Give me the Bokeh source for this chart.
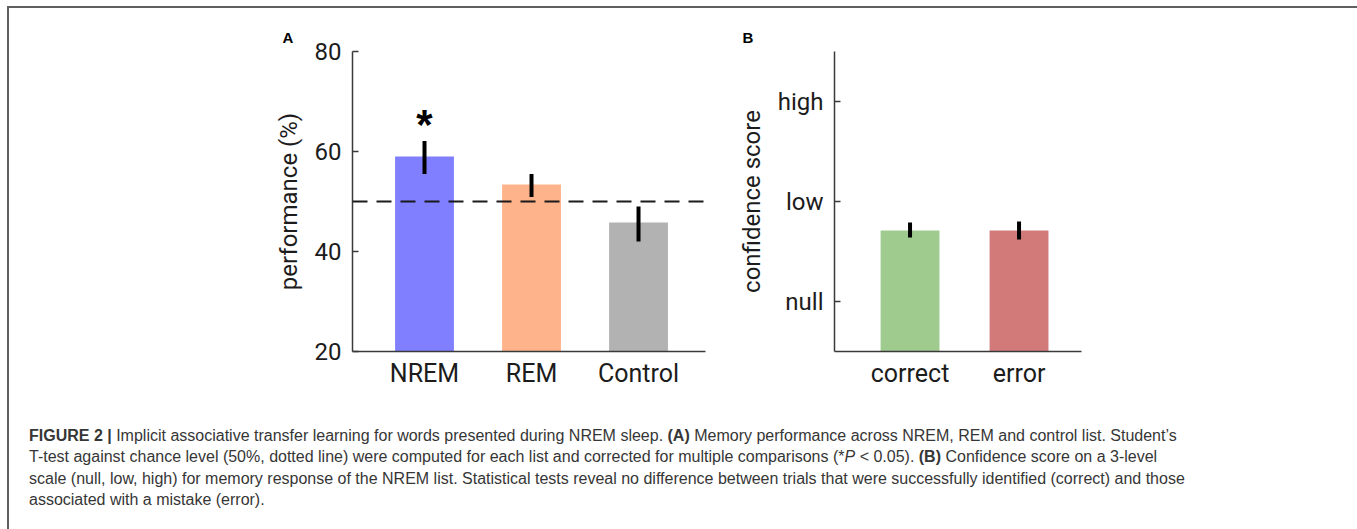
from bokeh.plotting import figure
from bokeh.models import Range1d, FixedTicker, Span, Div
from bokeh.layouts import column, row
from bokeh.embed import file_html
from bokeh.resources import INLINE
from bokeh.core.properties import value

# ---------------- data ----------------
a_categories = ["NREM", "REM", "Control"]
a_values = [59.0, 53.4, 45.8]
a_err_low = [55.5, 50.9, 42.0]
a_err_high = [62.1, 55.5, 49.0]
a_colors = ["#7f7fff", "#ffb38a", "#b2b2b2"]
a_marks = ["*", "", ""]
a_yticks = [20, 40, 60, 80]
chance_level = 50

b_categories = ["correct", "error"]
b_values = [0.71, 0.71]
b_err_low = [0.64, 0.62]
b_err_high = [0.79, 0.80]
b_colors = ["#9fcb8f", "#d27a7a"]
b_tick_values = [0, 1, 2]
b_tick_labels = ["null", "low", "high"]

caption_lines = [
    "<b>FIGURE 2 |</b> Implicit associative transfer learning for words presented during NREM sleep. "
    "<b>(A)</b> Memory performance across NREM, REM and control list. Student\u2019s",
    "T-test against chance level (50%, dotted line) were computed for each list and corrected for multiple "
    "comparisons (*<i>P</i> &lt; 0.05). <b>(B)</b> Confidence score on a 3-level",
    "scale (null, low, high) for memory response of the NREM list. Statistical tests reveal no difference "
    "between trials that were successfully identified (correct) and those",
    "associated with a mistake (error).",
]

# ---------------- style ----------------
FONT = "Roboto"
INK = "#1c1c1c"
AXIS = "#3a3a3a"


def style(p, ylabel, panel, offset):
    p.xgrid.visible = False
    p.ygrid.visible = False
    p.outline_line_color = None
    p.background_fill_color = "white"
    p.border_fill_color = "white"
    p.title.text = panel
    p.title.align = "left"
    p.title.offset = offset
    p.title.standoff = 11
    p.title.text_font = "Liberation Sans"
    p.title.text_font_size = "15px"
    p.title.text_font_style = "bold"
    p.title.text_color = "black"
    ya = p.yaxis[0]
    xa = p.xaxis[0]
    for ax in (xa, ya):
        ax.axis_line_color = AXIS
        ax.axis_line_width = 1.5
        ax.minor_tick_line_color = None
        ax.major_label_text_font = FONT
        ax.major_label_text_color = INK
    ya.major_tick_in = 6
    ya.major_tick_out = 0
    ya.major_tick_line_color = AXIS
    ya.major_tick_line_width = 1.5
    ya.major_label_standoff = 11
    ya.major_label_text_font_size = "24px"
    ya.axis_label = ylabel
    ya.axis_label_text_font = FONT
    ya.axis_label_text_font_size = "24px"
    ya.axis_label_text_font_style = "normal"
    ya.axis_label_text_color = INK
    ya.axis_label_standoff = 9
    xa.major_tick_line_color = None
    xa.major_tick_in = 0
    xa.major_tick_out = 0
    xa.major_label_standoff = 7
    xa.major_label_text_font_size = "25px"


# ---------------- panel A ----------------
xa_pos = list(range(1, len(a_categories) + 1))
pA = figure(width=711, height=407, x_range=Range1d(0.327, 3.626), y_range=Range1d(20, 80),
            output_backend="svg", toolbar_location=None,
            min_border_left=343, min_border_right=15, min_border_top=43, min_border_bottom=64)
pA.vbar(x=xa_pos, top=a_values, bottom=pA.y_range.start, width=0.55,
        fill_color=a_colors, line_color=None)
pA.add_layout(Span(location=chance_level, dimension="width", line_color="#1a1a1a",
                   line_width=2, line_dash="15 9"))
pA.segment(x0=xa_pos, y0=a_err_low, x1=xa_pos, y1=a_err_high, line_color="black", line_width=4)
star_gap = 3.3
pA.text(x=xa_pos, y=[h + star_gap for h in a_err_high], text=a_marks,
        text_font=value("Liberation Sans"), text_font_size="42px", text_font_style="bold",
        text_align="center", text_baseline="middle", text_color="black")
style(pA, "performance (%)", "A", -70)
pA.yaxis[0].ticker = FixedTicker(ticks=a_yticks)
pA.xaxis[0].ticker = FixedTicker(ticks=xa_pos)
pA.xaxis[0].major_label_overrides = {x: c for x, c in zip(xa_pos, a_categories)}

# ---------------- panel B ----------------
xb_pos = list(range(1, len(b_categories) + 1))
pB = figure(width=634, height=407, x_range=Range1d(0.307, 2.573), y_range=Range1d(-0.5, 2.5),
            output_backend="svg", toolbar_location=None,
            min_border_left=114, min_border_right=273, min_border_top=43, min_border_bottom=64)
pB.vbar(x=xb_pos, top=b_values, bottom=pB.y_range.start, width=0.54,
        fill_color=b_colors, line_color=None)
pB.segment(x0=xb_pos, y0=b_err_low, x1=xb_pos, y1=b_err_high, line_color="black", line_width=4)
style(pB, "confidence score", "B", -92)
pB.yaxis[0].ticker = FixedTicker(ticks=b_tick_values)
pB.yaxis[0].major_label_overrides = {v: t for v, t in zip(b_tick_values, b_tick_labels)}
pB.xaxis[0].ticker = FixedTicker(ticks=xb_pos)
pB.xaxis[0].major_label_overrides = {x: c for x, c in zip(xb_pos, b_categories)}

# ---------------- caption ----------------
caption = Div(
    text=('<div style="font-family:\'Liberation Sans\',sans-serif;'
          'font-size:16px;line-height:21.3px;color:#363636;white-space:nowrap;'
          'padding-left:15px;padding-top:5px;">' + "<br>".join(caption_lines) + "</div>"),
    width=1345, height=108,
)

layout = column(
    row(pA, pB),
    caption,
    styles={"border-top": "2px solid #5f5f5f", "border-left": "2px solid #5f5f5f",
            "border-right": "2px solid #5f5f5f", "background-color": "white",
            "margin-left": "7px", "margin-top": "6px"},
)

open("out.html", "w").write(file_html(layout, INLINE))
